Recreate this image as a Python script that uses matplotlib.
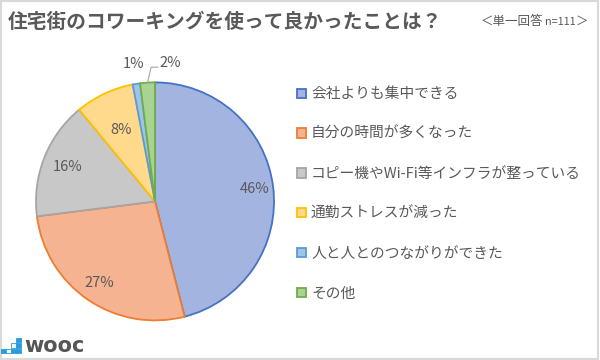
import numpy as np
import matplotlib
matplotlib.use("Agg")
import matplotlib.pyplot as plt
from matplotlib.patches import Rectangle

plt.rcParams['font.family'] = ['Noto Sans CJK JP', 'DejaVu Sans']

labels = ["会社よりも集中できる", "自分の時間が多くなった", "コピー機やWi-Fi等インフラが整っている",
          "通勤ストレスが減った", "人と人とのつながりができた", "その他"]
shares = [46, 27, 16, 8, 1, 2]
fills = ["#A4B4E0", "#F5B391", "#C8C8C8", "#FFD98C", "#9FC4E8", "#A9D392"]
edges = ["#4472C4", "#ED7D31", "#A5A5A5", "#FFC000", "#5B9BD5", "#70AD47"]

txt = "#595959"

fig = plt.figure(figsize=(6, 3.6), dpi=100)
fig.patches.append(Rectangle((0.002, 0.004), 0.994, 0.992, transform=fig.transFigure,
                             fill=False, edgecolor="#D9D9D9", lw=1.5))

ax = fig.add_axes([0.060, 0.110, 0.3967, 0.6611])
wedges, _ = ax.pie(shares, colors=fills, startangle=90, counterclock=False,
                   wedgeprops=dict(linewidth=1.3))
for w, e in zip(wedges, edges):
    w.set_edgecolor(e)
ax.set_aspect("equal")
ax.set_xlim(-1, 1)
ax.set_ylim(-1, 1)

# percent labels, inside for big slices, outside for the tiny ones
radii = [0.84, 0.83, 0.79, 0.66, 1.17, 1.0]
for w, s, r in zip(wedges, shares, radii):
    mid = np.deg2rad((w.theta1 + w.theta2) / 2)
    x, y = r * np.cos(mid), r * np.sin(mid)
    if s == 2:
        # label pushed up and to the right, with a leader line
        lx, ly = x + 0.195, y + 0.165
        ax.plot([x, x + 0.03, lx - 0.11], [y, ly - 0.035, ly - 0.035],
                color="#A6A6A6", lw=0.8, clip_on=False)
        ax.text(lx, ly, "%d%%" % s, ha="center", va="center", fontsize=10.5, color=txt)
    else:
        ax.text(x, y, "%d%%" % s, ha="center", va="center", fontsize=10.5, color=txt)

fig.legend(wedges, labels, loc="upper left", bbox_to_anchor=(0.473, 0.794), frameon=False,
           labelspacing=1.75, handlelength=0.6, handleheight=0.6, handletextpad=0.35,
           fontsize=10.6, labelcolor=txt)

fig.text(8 / 600, 1 - 22 / 360, "住宅街のコワーキングを使って良かったことは？", fontsize=14.2,
         fontweight="bold", color=txt, ha="left", va="center")
t1 = fig.text(481 / 600, 1 - 22 / 360, "＜単一回答", fontsize=9.0, color=txt,
              ha="left", va="center")
a2 = ax.annotate("n=111", xy=(1.02, 0.14), xycoords=t1, fontsize=7.8, color=txt,
                 ha="left", va="bottom", annotation_clip=False)
ax.annotate("＞", xy=(1.0, -0.16), xycoords=a2, fontsize=9.0, color=txt,
            ha="left", va="bottom", annotation_clip=False)

# logo in the lower left corner
blue = "#2A9BDB"
sq = 4.8
cells = [(16, 337.5, True), (11, 343, False), (16, 343, True),
         (1, 348.5, True), (6, 348.5, False), (11, 348.5, True), (16, 348.5, True)]
for px, py, solid in cells:
    fig.patches.append(Rectangle((px / 600, 1 - (py + sq) / 360), sq / 600, sq / 360,
                                 transform=fig.transFigure,
                                 facecolor=blue if solid else "white",
                                 edgecolor=blue, lw=0.6))
fig.text(24 / 600, 1 - 346 / 360, "wooc", fontsize=15, fontweight="heavy",
         color="#555555", ha="left", va="center", family="DejaVu Sans")

fig.savefig("out.png", dpi=100)
